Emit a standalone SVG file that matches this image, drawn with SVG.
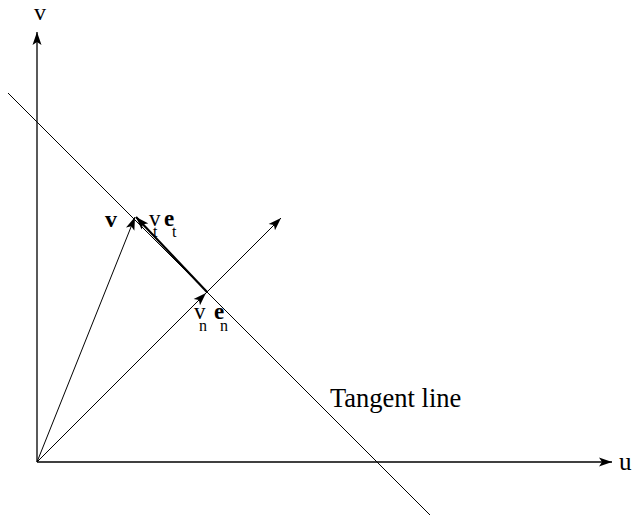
<svg xmlns="http://www.w3.org/2000/svg" width="634" height="516" viewBox="0 0 634 516">
<style>
.ln{stroke:#000;stroke-width:1;fill:none}
.ax{stroke:#000;stroke-width:1.3;fill:none}
.tx{font-family:"Liberation Serif","Times New Roman",serif;fill:#000}
.b{font-weight:bold}
.sub{font-size:16px}
</style>
<defs>
<marker id="ah" markerUnits="userSpaceOnUse" markerWidth="14" markerHeight="10" viewBox="0 0 14 10" refX="13" refY="5" orient="auto">
<path d="M0,0.5 L13,5 L0,9.5 L3,5 z" fill="#000"/>
</marker>
</defs>
<rect width="634" height="516" fill="#fff"/>
<g id="connectors">
<line class="ax" x1="37" y1="462" x2="37" y2="32" marker-end="url(#ah)"/>
<line class="ax" x1="37" y1="462" x2="612" y2="462" marker-end="url(#ah)"/>
<line class="ln" x1="8" y1="93" x2="430" y2="515"/>
<line class="ln" x1="37" y1="462" x2="135" y2="217" marker-end="url(#ah)"/>
<line class="ln" x1="37" y1="462" x2="206" y2="293" marker-end="url(#ah)"/>
<line class="ln" x1="206" y1="293" x2="281" y2="218" marker-end="url(#ah)"/>
<line class="ln" style="stroke-width:2.2" x1="207" y1="292" x2="136" y2="217" marker-end="url(#ah)"/>
</g>
<g id="labels">
<text class="tx" x="40" y="20" font-size="24" text-anchor="middle">v</text>
<text class="tx" x="619" y="470" font-size="25">u</text>
<text class="tx" x="330" y="407" font-size="26.5">Tangent line</text>
<text class="tx b" x="105" y="227" font-size="24">v</text>
<text class="tx" x="149" y="226" font-size="23">v</text>
<text class="tx sub" x="153" y="237">t</text>
<text class="tx b" x="164" y="226" font-size="23">e</text>
<text class="tx sub" x="172" y="237">t</text>
<text class="tx" x="194" y="319" font-size="23">v</text>
<text class="tx sub" x="199" y="331">n</text>
<text class="tx b" x="214" y="319" font-size="23">e</text>
<text class="tx sub" x="220" y="331">n</text>
</g>
</svg>
